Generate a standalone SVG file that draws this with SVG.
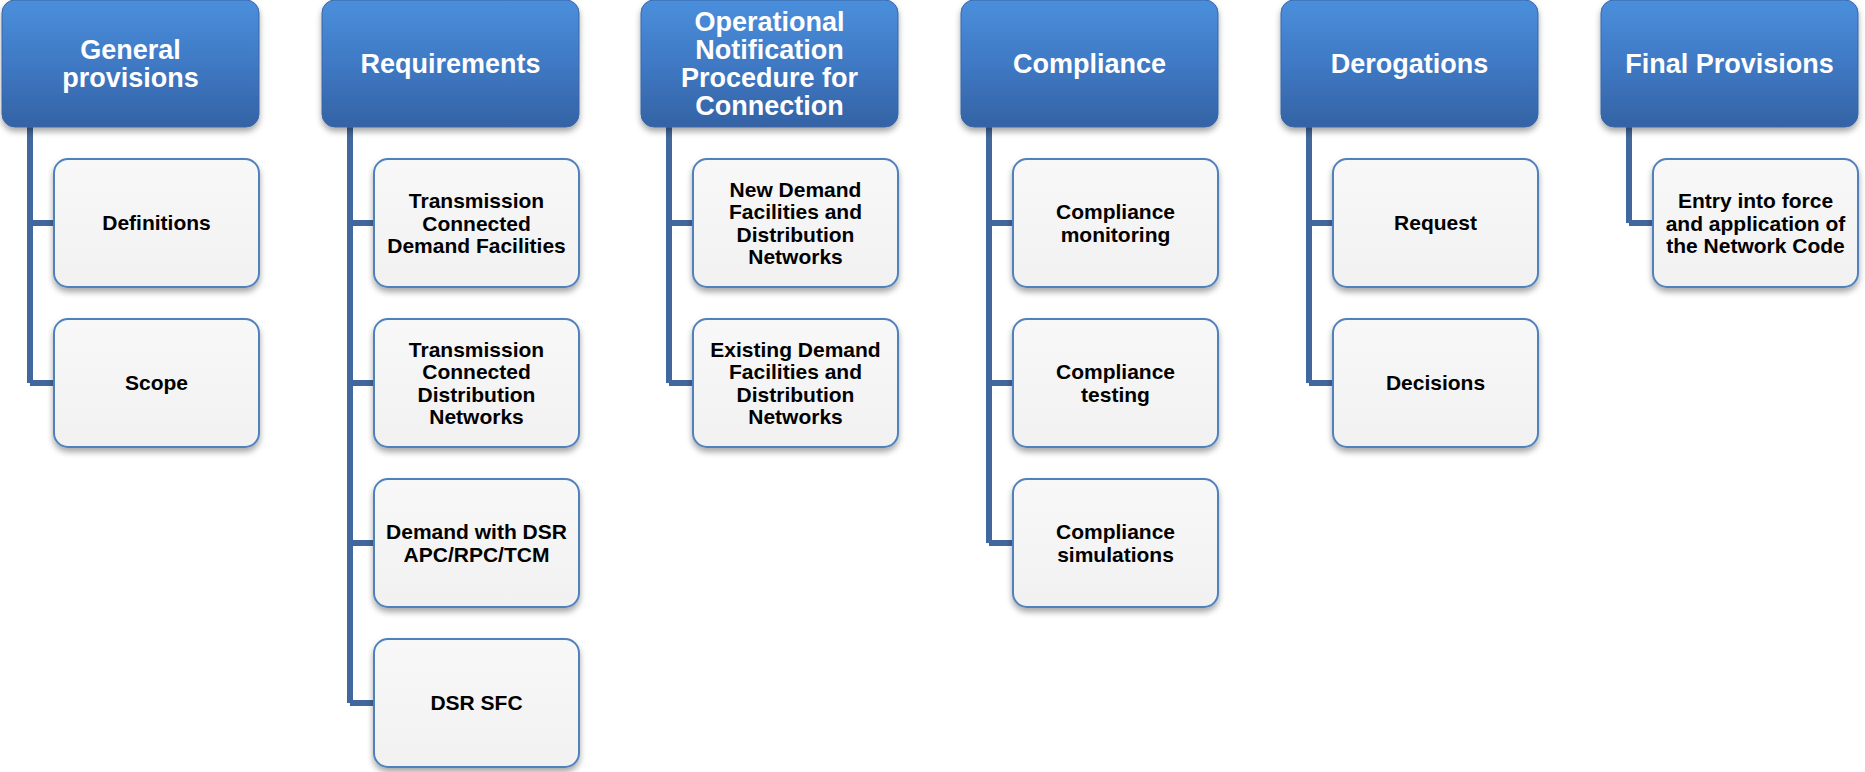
<svg xmlns="http://www.w3.org/2000/svg" width="1865" height="772" viewBox="0 0 1865 772">
<style>
.hdr{fill:url(#hg);stroke:#3a67a6;stroke-width:1}
.chd{fill:url(#cg);stroke:#4f81bd;stroke-width:2}
.ht{font-family:"Liberation Sans",Arial,sans-serif;font-weight:bold;font-size:27px;fill:#ffffff;text-anchor:middle}
.ct{font-family:"Liberation Sans",Arial,sans-serif;font-weight:bold;font-size:21px;fill:#000000;text-anchor:middle}
.con{fill:none;stroke:#41679c;stroke-width:6;stroke-linejoin:miter;stroke-linecap:butt}
</style>
<defs>
<linearGradient id="hg" x1="0" y1="0" x2="0" y2="1">
<stop offset="0" stop-color="#4b8fdc"/>
<stop offset="0.5" stop-color="#3f79c4"/>
<stop offset="1" stop-color="#3463a5"/>
</linearGradient>
<linearGradient id="cg" x1="0" y1="0" x2="0" y2="1">
<stop offset="0" stop-color="#f8f8f8"/>
<stop offset="1" stop-color="#f1f1f1"/>
</linearGradient>
<filter id="sh" x="-10%" y="-10%" width="120%" height="130%">
<feGaussianBlur in="SourceAlpha" stdDeviation="3"/>
<feOffset dx="0" dy="4" result="b"/>
<feComponentTransfer><feFuncA type="linear" slope="0.35"/></feComponentTransfer>
<feMerge><feMergeNode/><feMergeNode in="SourceGraphic"/></feMerge>
</filter>
</defs>

<g id="connectors">
<path class="con" d="M30 127 V383 M30 223 H54 M30 383 H54"/>
<path class="con" d="M350 127 V703 M350 223 H374 M350 383 H374 M350 543 H374 M350 703 H374"/>
<path class="con" d="M669 127 V383 M669 223 H693 M669 383 H693"/>
<path class="con" d="M989 127 V543 M989 223 H1013 M989 383 H1013 M989 543 H1013"/>
<path class="con" d="M1309 127 V383 M1309 223 H1333 M1309 383 H1333"/>
<path class="con" d="M1629 127 V223 M1629 223 H1653"/>
</g>

<g id="h-general">
<rect class="hdr" x="2" y="0" width="257" height="127" rx="13" filter="url(#sh)"/>
<text class="ht" x="130.5" y="59">General</text>
<text class="ht" x="130.5" y="87">provisions</text>
</g>
<g id="h-requirements">
<rect class="hdr" x="322" y="0" width="257" height="127" rx="13" filter="url(#sh)"/>
<text class="ht" x="450.5" y="73">Requirements</text>
</g>
<g id="h-operational">
<rect class="hdr" x="641" y="0" width="257" height="127" rx="13" filter="url(#sh)"/>
<text class="ht" x="769.5" y="31">Operational</text>
<text class="ht" x="769.5" y="59">Notification</text>
<text class="ht" x="769.5" y="87">Procedure for</text>
<text class="ht" x="769.5" y="115">Connection</text>
</g>
<g id="h-compliance">
<rect class="hdr" x="961" y="0" width="257" height="127" rx="13" filter="url(#sh)"/>
<text class="ht" x="1089.5" y="73">Compliance</text>
</g>
<g id="h-derogations">
<rect class="hdr" x="1281" y="0" width="257" height="127" rx="13" filter="url(#sh)"/>
<text class="ht" x="1409.5" y="73">Derogations</text>
</g>
<g id="h-final">
<rect class="hdr" x="1601" y="0" width="257" height="127" rx="13" filter="url(#sh)"/>
<text class="ht" x="1729.5" y="73">Final Provisions</text>
</g>

<g id="c-definitions">
<rect class="chd" x="54" y="159" width="205" height="128" rx="14" filter="url(#sh)"/>
<text class="ct" x="156.5" y="230">Definitions</text>
</g>
<g id="c-scope">
<rect class="chd" x="54" y="319" width="205" height="128" rx="14" filter="url(#sh)"/>
<text class="ct" x="156.5" y="390">Scope</text>
</g>

<g id="c-tcdf">
<rect class="chd" x="374" y="159" width="205" height="128" rx="14" filter="url(#sh)"/>
<text class="ct" x="476.5" y="208">Transmission</text>
<text class="ct" x="476.5" y="230.5">Connected</text>
<text class="ct" x="476.5" y="253">Demand Facilities</text>
</g>
<g id="c-tcdn">
<rect class="chd" x="374" y="319" width="205" height="128" rx="14" filter="url(#sh)"/>
<text class="ct" x="476.5" y="356.5">Transmission</text>
<text class="ct" x="476.5" y="379">Connected</text>
<text class="ct" x="476.5" y="401.5">Distribution</text>
<text class="ct" x="476.5" y="424">Networks</text>
</g>
<g id="c-dsr-apc">
<rect class="chd" x="374" y="479" width="205" height="128" rx="14" filter="url(#sh)"/>
<text class="ct" x="476.5" y="539">Demand with DSR</text>
<text class="ct" x="476.5" y="561.5">APC/RPC/TCM</text>
</g>
<g id="c-dsr-sfc">
<rect class="chd" x="374" y="639" width="205" height="128" rx="14" filter="url(#sh)"/>
<text class="ct" x="476.5" y="710">DSR SFC</text>
</g>

<g id="c-new">
<rect class="chd" x="693" y="159" width="205" height="128" rx="14" filter="url(#sh)"/>
<text class="ct" x="795.5" y="196.5">New Demand</text>
<text class="ct" x="795.5" y="219">Facilities and</text>
<text class="ct" x="795.5" y="241.5">Distribution</text>
<text class="ct" x="795.5" y="264">Networks</text>
</g>
<g id="c-existing">
<rect class="chd" x="693" y="319" width="205" height="128" rx="14" filter="url(#sh)"/>
<text class="ct" x="795.5" y="356.5">Existing Demand</text>
<text class="ct" x="795.5" y="379">Facilities and</text>
<text class="ct" x="795.5" y="401.5">Distribution</text>
<text class="ct" x="795.5" y="424">Networks</text>
</g>

<g id="c-monitoring">
<rect class="chd" x="1013" y="159" width="205" height="128" rx="14" filter="url(#sh)"/>
<text class="ct" x="1115.5" y="219">Compliance</text>
<text class="ct" x="1115.5" y="241.5">monitoring</text>
</g>
<g id="c-testing">
<rect class="chd" x="1013" y="319" width="205" height="128" rx="14" filter="url(#sh)"/>
<text class="ct" x="1115.5" y="379">Compliance</text>
<text class="ct" x="1115.5" y="401.5">testing</text>
</g>
<g id="c-simulations">
<rect class="chd" x="1013" y="479" width="205" height="128" rx="14" filter="url(#sh)"/>
<text class="ct" x="1115.5" y="539">Compliance</text>
<text class="ct" x="1115.5" y="561.5">simulations</text>
</g>

<g id="c-request">
<rect class="chd" x="1333" y="159" width="205" height="128" rx="14" filter="url(#sh)"/>
<text class="ct" x="1435.5" y="230">Request</text>
</g>
<g id="c-decisions">
<rect class="chd" x="1333" y="319" width="205" height="128" rx="14" filter="url(#sh)"/>
<text class="ct" x="1435.5" y="390">Decisions</text>
</g>

<g id="c-entry">
<rect class="chd" x="1653" y="159" width="205" height="128" rx="14" filter="url(#sh)"/>
<text class="ct" x="1755.5" y="208">Entry into force</text>
<text class="ct" x="1755.5" y="230.5">and application of</text>
<text class="ct" x="1755.5" y="253">the Network Code</text>
</g>
</svg>
